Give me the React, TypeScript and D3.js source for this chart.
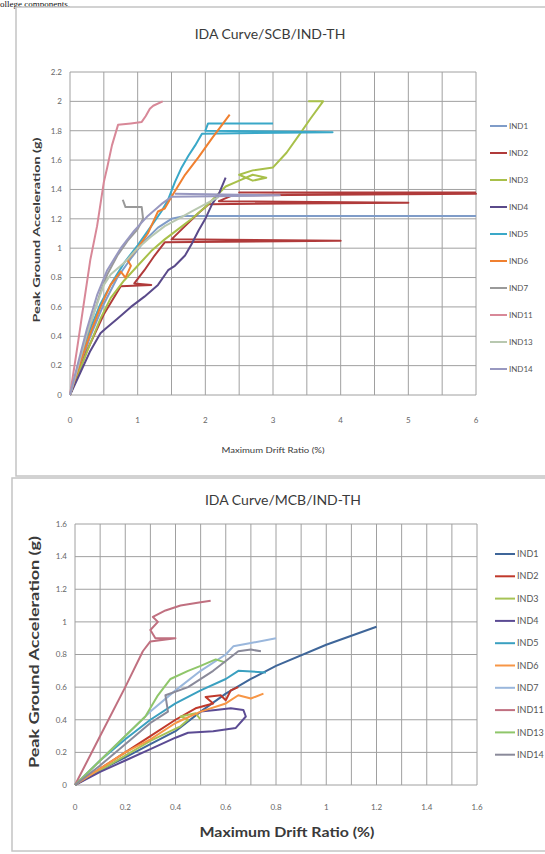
import React from 'react'
import * as d3 from 'd3'

type Pt = [number, number]

const seriesNames = ['IND1', 'IND2', 'IND3', 'IND4', 'IND5', 'IND6', 'IND7', 'IND11', 'IND13', 'IND14']

// top chart: SCB
const scbIND1: Pt[] = [[0, 0], [0.15, 0.2], [0.3, 0.4], [0.5, 0.62], [0.7, 0.8], [0.9, 0.93], [1.1, 1.05], [1.3, 1.14], [1.5, 1.2], [1.7, 1.22], [6, 1.22]]
const scbIND2: Pt[] = [[0, 0], [0.25, 0.3], [0.5, 0.55], [0.75, 0.74], [1.2, 0.75], [0.95, 0.76], [1.1, 0.85], [1.25, 0.95], [1.4, 1.04], [4.0, 1.05], [1.5, 1.06], [1.7, 1.15], [1.9, 1.24], [2.05, 1.3], [5.0, 1.31], [2.2, 1.32], [2.4, 1.36], [6, 1.37], [2.5, 1.38], [6, 1.38]]
const scbIND3: Pt[] = [[0, 0], [0.15, 0.18], [0.3, 0.35], [0.45, 0.52], [0.6, 0.66], [0.8, 0.78], [1.0, 0.88], [1.2, 0.98], [1.4, 1.06], [1.6, 1.13], [1.8, 1.2], [2.0, 1.28], [2.15, 1.35], [2.3, 1.42], [2.5, 1.46], [2.7, 1.5], [2.9, 1.48], [2.7, 1.46], [2.5, 1.5], [2.7, 1.53], [3.0, 1.55], [3.2, 1.65], [3.4, 1.78], [3.55, 1.88], [3.74, 2.0], [3.52, 2.0]]
const scbIND4: Pt[] = [[0, 0], [0.15, 0.15], [0.3, 0.3], [0.45, 0.42], [0.52, 0.45], [0.7, 0.52], [0.9, 0.6], [1.1, 0.67], [1.3, 0.75], [1.45, 0.85], [1.55, 0.88], [1.7, 0.95], [1.8, 1.03], [1.9, 1.12], [2.0, 1.2], [2.1, 1.3], [2.2, 1.37], [2.3, 1.48]]
const scbIND5: Pt[] = [[0, 0], [0.15, 0.25], [0.3, 0.45], [0.45, 0.62], [0.6, 0.75], [0.8, 0.9], [1.0, 1.02], [1.2, 1.15], [1.35, 1.25], [1.45, 1.33], [1.55, 1.45], [1.65, 1.55], [1.75, 1.63], [1.85, 1.7], [1.95, 1.78], [3.88, 1.79], [2.0, 1.8], [2.04, 1.85], [3.0, 1.85]]
const scbIND6: Pt[] = [[0, 0], [0.15, 0.22], [0.3, 0.42], [0.45, 0.6], [0.6, 0.75], [0.75, 0.84], [0.82, 0.8], [0.9, 0.88], [0.85, 0.92], [1.0, 1.0], [1.15, 1.1], [1.25, 1.2], [1.3, 1.25], [1.4, 1.27], [1.5, 1.35], [1.7, 1.5], [1.9, 1.62], [2.1, 1.75], [2.36, 1.91]]
const scbIND7: Pt[] = [[0, 0], [0.15, 0.25], [0.3, 0.48], [0.45, 0.7], [0.55, 0.82], [0.7, 0.95], [0.85, 1.05], [1.0, 1.13], [1.08, 1.2], [1.06, 1.28], [0.82, 1.28], [0.78, 1.33]]
const scbIND11: Pt[] = [[0, 0], [0.1, 0.3], [0.19, 0.58], [0.3, 0.92], [0.4, 1.15], [0.5, 1.45], [0.55, 1.55], [0.62, 1.7], [0.71, 1.84], [0.9, 1.85], [1.06, 1.86], [1.12, 1.9], [1.18, 1.95], [1.23, 1.97], [1.37, 2.0]]
const scbIND13: Pt[] = [[0, 0], [0.12, 0.2], [0.25, 0.42], [0.4, 0.62], [0.5, 0.75], [0.6, 0.82], [0.8, 0.9], [1.0, 1.0], [1.2, 1.08], [1.4, 1.15], [1.6, 1.2], [1.8, 1.25], [2.0, 1.3], [2.2, 1.35]]
const scbIND14: Pt[] = [[0, 0], [0.12, 0.22], [0.25, 0.45], [0.4, 0.68], [0.55, 0.85], [0.75, 1.0], [0.95, 1.12], [1.15, 1.22], [1.35, 1.3], [1.5, 1.35], [3.1, 1.36], [1.55, 1.37]]
const scbXTicks = [0, 1, 2, 3, 4, 5, 6]
const scbYTicks = [0, 0.2, 0.4, 0.6, 0.8, 1, 1.2, 1.4, 1.6, 1.8, 2, 2.2]
const scbColors = ['#7f9cc8', '#b03a3a', '#a8c04a', '#5a4a8a', '#3aa8c8', '#f08030', '#9a9a9a', '#d88898', '#b8c8b0', '#9898c0']

// bottom chart: MCB
const mcbIND1: Pt[] = [[0, 0], [0.1, 0.09], [0.2, 0.17], [0.3, 0.25], [0.4, 0.33], [0.5, 0.45], [0.6, 0.56], [0.7, 0.65], [0.8, 0.73], [1.0, 0.86], [1.2, 0.97]]
const mcbIND2: Pt[] = [[0, 0], [0.1, 0.1], [0.2, 0.2], [0.3, 0.3], [0.4, 0.4], [0.48, 0.47], [0.55, 0.5], [0.52, 0.54], [0.58, 0.55], [0.6, 0.52], [0.62, 0.58], [0.65, 0.6]]
const mcbIND3: Pt[] = [[0, 0], [0.1, 0.09], [0.2, 0.18], [0.3, 0.27], [0.38, 0.33], [0.42, 0.36], [0.45, 0.4], [0.42, 0.42], [0.48, 0.44], [0.5, 0.4]]
const mcbIND4: Pt[] = [[0, 0], [0.1, 0.08], [0.2, 0.15], [0.3, 0.22], [0.4, 0.29], [0.45, 0.32], [0.55, 0.33], [0.64, 0.35], [0.68, 0.42], [0.67, 0.46], [0.62, 0.47], [0.56, 0.46], [0.5, 0.45]]
const mcbIND5: Pt[] = [[0, 0], [0.1, 0.15], [0.2, 0.28], [0.3, 0.4], [0.4, 0.5], [0.5, 0.58], [0.6, 0.65], [0.65, 0.7], [0.76, 0.69]]
const mcbIND6: Pt[] = [[0, 0], [0.1, 0.1], [0.2, 0.2], [0.3, 0.28], [0.4, 0.38], [0.5, 0.45], [0.6, 0.5], [0.65, 0.55], [0.7, 0.53], [0.75, 0.56]]
const mcbIND7: Pt[] = [[0, 0], [0.1, 0.15], [0.2, 0.3], [0.3, 0.45], [0.4, 0.58], [0.5, 0.7], [0.6, 0.8], [0.63, 0.85], [0.7, 0.87], [0.8, 0.9]]
const mcbIND11: Pt[] = [[0, 0], [0.1, 0.3], [0.2, 0.6], [0.27, 0.82], [0.3, 0.88], [0.4, 0.9], [0.32, 0.9], [0.3, 0.95], [0.33, 1.0], [0.31, 1.03], [0.36, 1.07], [0.42, 1.1], [0.5, 1.12], [0.54, 1.13]]
const mcbIND13: Pt[] = [[0, 0], [0.1, 0.15], [0.2, 0.3], [0.28, 0.42], [0.33, 0.55], [0.38, 0.65], [0.45, 0.7], [0.5, 0.73], [0.56, 0.77], [0.6, 0.75]]
const mcbIND14: Pt[] = [[0, 0], [0.1, 0.12], [0.2, 0.25], [0.3, 0.38], [0.37, 0.45], [0.36, 0.55], [0.45, 0.6], [0.55, 0.7], [0.6, 0.76], [0.65, 0.82], [0.7, 0.83], [0.74, 0.82]]
const mcbXTicks = [0, 0.2, 0.4, 0.6, 0.8, 1, 1.2, 1.4, 1.6]
const mcbYTicks = [0, 0.2, 0.4, 0.6, 0.8, 1, 1.2, 1.4, 1.6]
const mcbColors = ['#3f6699', '#c0392b', '#a6c356', '#5b4b93', '#3aa0c0', '#f79646', '#9ab7dc', '#c07080', '#8fc66a', '#8a8a9a']

const font = 'Lato, "Open Sans", sans-serif'

function Chart(props: any) {
  const { box, plot, xMax, yMax, xStep, yStep, xTicks, yTicks, data, colors, title, xTitle, yTitle, legend, lineWidth } = props
  const x = d3.scaleLinear().domain([0, xMax]).range([plot.left, plot.right])
  const y = d3.scaleLinear().domain([0, yMax]).range([plot.bottom, plot.top])
  const line = d3.line<Pt>().x(d => x(d[0])).y(d => y(d[1]))
  const vGrid = d3.range(0, xMax + 1e-9, xStep)
  const hGrid = d3.range(0, yMax + 1e-9, yStep)
  const fmt = (v: number) => String(+v.toFixed(1))
  return (
    <g>
      <rect x={box.x} y={box.y} width={box.w} height={box.h} fill="#fff" stroke="#c4c4c4" strokeWidth={1.5} />
      <text x={title.x} y={title.y} textAnchor="middle" fontSize={title.size} fill="#3a3a3a" fontFamily={font}>{title.text}</text>
      {vGrid.map((v, i) => (
        <line key={'v' + i} x1={x(v)} x2={x(v)} y1={plot.top} y2={plot.bottom} stroke="#a0a0a0" strokeWidth={1} />
      ))}
      {hGrid.map((v, i) => (
        <line key={'h' + i} x1={plot.left} x2={plot.right} y1={y(v)} y2={y(v)} stroke="#a0a0a0" strokeWidth={1} />
      ))}
      {yTicks.map((v: number, i: number) => (
        <text key={'yt' + i} x={plot.left - 8} y={y(v)} dy="0.35em" textAnchor="end" fontSize={8} fill="#666" fontFamily={font}>{fmt(v)}</text>
      ))}
      {xTicks.map((v: number, i: number) => (
        <text key={'xt' + i} x={x(v)} y={xTitle.tickY} dy="0.35em" textAnchor="middle" fontSize={8} fill="#666" fontFamily={font}>{fmt(v)}</text>
      ))}
      {data.map((d: Pt[], i: number) => (
        <path key={'s' + i} d={line(d) || ''} fill="none" stroke={colors[i]} strokeWidth={lineWidth} strokeLinejoin="round" />
      ))}
      <text x={xTitle.x} y={xTitle.y} dy="0.35em" textAnchor="middle" fontSize={xTitle.size} fontWeight={xTitle.weight} fill="#3a3a3a" fontFamily={font} textLength={xTitle.len} lengthAdjust="spacingAndGlyphs">{xTitle.text}</text>
      <text transform={`translate(${yTitle.x},${yTitle.y}) rotate(-90)`} dy="0.35em" textAnchor="middle" fontSize={yTitle.size} fontWeight="bold" fill="#3a3a3a" fontFamily={font} textLength={yTitle.len} lengthAdjust="spacingAndGlyphs">{yTitle.text}</text>
      {seriesNames.map((n, i) => {
        const ly = legend.y0 + i * legend.dy
        return (
          <g key={'l' + i}>
            <line x1={legend.x1} x2={legend.x2} y1={ly} y2={ly} stroke={colors[i]} strokeWidth={2} />
            <text x={legend.x2 + 2} y={ly} dy="0.35em" fontSize={legend.size} fill="#555" fontFamily={font}>{n}</text>
          </g>
        )
      })}
    </g>
  )
}

export default function App() {
  return (
    <svg width={545} height={854} style={{ position: 'absolute', left: 0, top: 0, background: '#fff' }}>
      <text x={0} y={6.5} fontSize={9} fontFamily='"Liberation Serif", serif' fill="#111">ollege components.</text>
      <Chart
        box={{ x: 16, y: 7, w: 545, h: 469 }}
        plot={{ left: 70, right: 476, top: 72, bottom: 395 }}
        xMax={6} yMax={2.2} xStep={0.5} yStep={0.2}
        xTicks={scbXTicks} yTicks={scbYTicks}
        data={[scbIND1, scbIND2, scbIND3, scbIND4, scbIND5, scbIND6, scbIND7, scbIND11, scbIND13, scbIND14]}
        colors={scbColors}
        lineWidth={2}
        title={{ text: 'IDA Curve/SCB/IND-TH', x: 270, y: 39, size: 14 }}
        xTitle={{ text: 'Maximum Drift  Ratio (%)', x: 273, y: 450, size: 8, weight: 'normal', len: 103, tickY: 420 }}
        yTitle={{ text: 'Peak Ground Acceleration (g)', x: 37, y: 230, size: 9, len: 185 }}
        legend={{ x1: 490, x2: 507, y0: 126, dy: 27, size: 8 }}
      />
      <Chart
        box={{ x: 12, y: 478, w: 545, h: 373 }}
        plot={{ left: 75, right: 477, top: 524, bottom: 785 }}
        xMax={1.6} yMax={1.6} xStep={0.1} yStep={0.2}
        xTicks={mcbXTicks} yTicks={mcbYTicks}
        data={[mcbIND1, mcbIND2, mcbIND3, mcbIND4, mcbIND5, mcbIND6, mcbIND7, mcbIND11, mcbIND13, mcbIND14]}
        colors={mcbColors}
        lineWidth={2}
        title={{ text: 'IDA Curve/MCB/IND-TH', x: 283, y: 505, size: 14 }}
        xTitle={{ text: 'Maximum Drift  Ratio (%)', x: 287, y: 832, size: 14, weight: 'bold', len: 175, tickY: 807 }}
        yTitle={{ text: 'Peak Ground Acceleration (g)', x: 34, y: 652, size: 13, len: 232 }}
        legend={{ x1: 495, x2: 515, y0: 554, dy: 22.3, size: 9 }}
      />
    </svg>
  )
}
